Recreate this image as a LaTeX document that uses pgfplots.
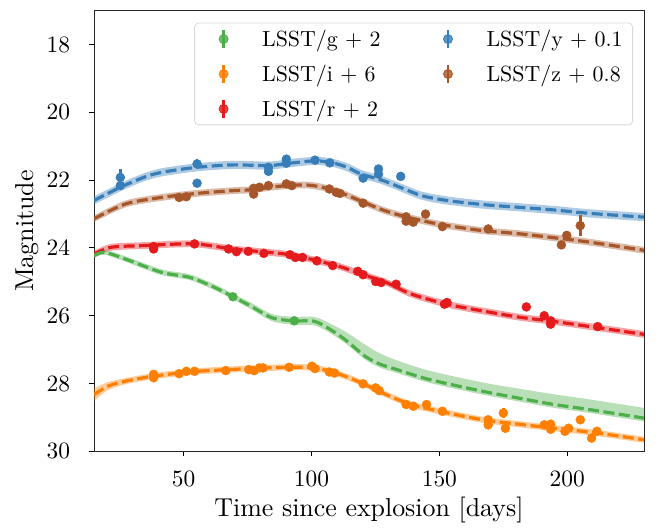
\documentclass[border=0pt]{standalone}
\usepackage{fontspec}
\setmainfont{lmroman10-regular.otf}
\usepackage{pgfplots}
\pgfplotsset{compat=1.18}
\usepgfplotslibrary{fillbetween}
\usepackage{pgfplotstable}
\definecolor{cg}{HTML}{4DAF4A}
\definecolor{co}{HTML}{FF7F00}
\definecolor{cr}{HTML}{E41A1C}
\definecolor{cb}{HTML}{377EB8}
\definecolor{cz}{HTML}{A65628}

% models: d = days, m = magnitude, lo/hi = band edges
\pgfplotstableread{
d m lo hi
15.0 22.60 22.48 22.72
25.3 22.21 22.09 22.33
34.4 21.92 21.80 22.04
41.4 21.77 21.65 21.89
55.3 21.62 21.50 21.74
69.3 21.55 21.43 21.67
83.2 21.57 21.45 21.69
91.6 21.50 21.38 21.62
101.4 21.43 21.31 21.55
108.3 21.49 21.37 21.61
113.9 21.62 21.50 21.74
119.5 21.82 21.70 21.94
127.9 22.01 21.89 22.13
136.3 22.26 22.14 22.38
143.2 22.46 22.34 22.58
153.0 22.60 22.48 22.72
167.0 22.72 22.60 22.84
181.0 22.80 22.68 22.92
194.9 22.88 22.76 23.00
208.8 22.98 22.86 23.10
230.0 23.09 22.97 23.21
}\ymodel

\pgfplotstableread{
d m lo hi
15.0 23.14 23.04 23.24
27.4 22.70 22.60 22.80
41.4 22.51 22.41 22.61
55.3 22.39 22.29 22.49
69.3 22.31 22.21 22.41
77.6 22.28 22.18 22.38
86.0 22.19 22.09 22.29
97.2 22.14 22.04 22.24
104.2 22.21 22.11 22.31
111.1 22.36 22.26 22.46
119.5 22.62 22.52 22.72
127.9 22.88 22.78 22.98
136.3 23.07 22.97 23.17
146.0 23.24 23.14 23.34
153.0 23.34 23.24 23.44
167.0 23.49 23.39 23.59
181.0 23.58 23.48 23.68
194.9 23.70 23.60 23.80
208.8 23.83 23.73 23.93
230.0 24.07 23.97 24.17
}\zmodel

\pgfplotstableread{
d m lo hi
15.0 24.18 24.08 24.28
21.8 23.98 23.88 24.08
34.4 23.93 23.83 24.03
53.9 23.88 23.78 23.98
69.3 24.03 23.93 24.13
83.2 24.13 24.03 24.23
91.6 24.20 24.10 24.30
101.4 24.36 24.26 24.46
111.1 24.55 24.45 24.65
119.5 24.77 24.67 24.87
129.3 25.02 24.92 25.12
139.0 25.36 25.26 25.46
153.0 25.66 25.56 25.76
167.0 25.86 25.76 25.96
181.0 26.04 25.94 26.14
194.9 26.17 26.07 26.27
211.6 26.35 26.25 26.45
230.0 26.55 26.45 26.65
}\rmodel

\pgfplotstableread{
d m lo hi
15.0 24.23 24.16 24.30
19.0 24.13 24.06 24.20
27.4 24.33 24.25 24.41
41.4 24.72 24.63 24.80
52.5 24.87 24.78 24.95
62.3 25.17 25.08 25.25
69.3 25.44 25.35 25.52
76.2 25.71 25.61 25.80
84.6 26.06 25.95 26.16
93.0 26.15 26.03 26.27
101.4 26.17 26.04 26.29
108.3 26.45 26.27 26.56
113.9 26.75 26.50 26.85
120.9 27.19 26.85 27.29
126.5 27.42 27.10 27.52
133.5 27.59 27.32 27.69
146.0 27.88 27.62 27.98
167.0 28.23 27.97 28.33
181.0 28.43 28.15 28.53
194.9 28.62 28.32 28.72
208.8 28.77 28.47 28.87
230.0 29.02 28.72 29.12
}\gmodel

\pgfplotstableread{
d m lo hi
15.0 28.33 28.15 28.51
20.4 28.08 27.96 28.20
27.4 27.93 27.84 28.02
38.6 27.78 27.69 27.87
55.3 27.64 27.55 27.73
76.2 27.56 27.47 27.65
91.6 27.52 27.43 27.61
101.4 27.54 27.45 27.63
111.1 27.73 27.64 27.82
119.5 27.98 27.89 28.07
129.3 28.33 28.24 28.42
139.0 28.62 28.53 28.71
150.2 28.82 28.73 28.91
167.0 29.07 28.98 29.16
181.0 29.20 29.11 29.29
194.9 29.32 29.23 29.41
211.6 29.46 29.37 29.55
230.0 29.66 29.57 29.75
}\imodel

% observations: d = days, m = magnitude, e = error
\pgfplotstableread{
d m e
25.3 21.92 0.25
25.3 22.16 0.10
55.3 21.52 0.13
55.3 22.09 0.06
83.2 21.62 0.08
83.2 21.74 0.08
90.2 21.38 0.10
90.2 21.50 0.08
101.4 21.41 0.06
107.2 21.49 0.06
120.2 21.94 0.06
126.2 21.67 0.12
126.2 21.82 0.08
134.9 21.89 0.12
}\ypts

\pgfplotstableread{
d m e
48.3 22.51 0.07
51.1 22.49 0.07
77.4 22.41 0.10
77.4 22.24 0.08
79.7 22.21 0.07
83.2 22.16 0.07
90.2 22.11 0.07
92.3 22.16 0.07
107.0 22.26 0.07
109.7 22.36 0.07
111.1 22.39 0.07
120.2 22.68 0.07
137.0 23.08 0.10
137.0 23.21 0.08
139.8 23.24 0.07
144.6 23.00 0.10
151.2 23.37 0.08
169.1 23.44 0.10
197.7 23.91 0.12
199.8 23.63 0.12
205.1 23.34 0.30
}\zpts

\pgfplotstableread{
d m e
38.3 23.96 0.07
38.3 24.03 0.07
54.3 23.88 0.06
67.6 24.03 0.06
70.7 24.11 0.06
75.3 24.10 0.06
81.4 24.16 0.06
91.6 24.20 0.08
93.7 24.28 0.06
96.5 24.28 0.06
102.1 24.38 0.06
108.3 24.52 0.08
118.1 24.69 0.06
120.2 24.79 0.06
125.1 24.99 0.06
127.2 25.02 0.06
133.1 25.07 0.08
152.0 25.66 0.08
153.0 25.61 0.06
184.0 25.74 0.10
191.0 26.00 0.10
193.5 26.15 0.12
193.5 26.25 0.12
211.9 26.32 0.12
}\rpts

\pgfplotstableread{
d m e
69.3 25.44 0.06
93.3 26.15 0.08
}\gpts

\pgfplotstableread{
d m e
38.3 27.73 0.10
38.3 27.83 0.08
48.3 27.71 0.06
51.1 27.64 0.06
54.3 27.64 0.06
66.5 27.62 0.06
75.5 27.59 0.06
77.6 27.62 0.06
79.7 27.54 0.06
81.1 27.54 0.06
91.3 27.52 0.06
100.2 27.49 0.06
101.4 27.56 0.06
107.0 27.66 0.06
109.0 27.69 0.06
120.2 28.01 0.06
125.1 28.13 0.06
126.5 28.21 0.08
137.0 28.62 0.08
139.8 28.67 0.08
145.0 28.62 0.08
151.2 28.82 0.06
169.1 29.07 0.08
169.1 29.22 0.10
175.0 28.87 0.15
175.8 29.32 0.10
191.0 29.22 0.08
193.5 29.20 0.08
193.5 29.35 0.10
199.1 29.41 0.10
200.5 29.32 0.10
205.1 29.07 0.12
209.5 29.61 0.12
211.6 29.41 0.10
}\ipts

\pgfplotsset{
  band/.style={draw=none, fill opacity=0.4},
  model/.style={line width=3.2bp, dash pattern=on 11bp off 4.5bp, smooth},
  obs/.style={only marks, mark=*, mark size=4.5bp,
    /pgfplots/error bars/y dir=both,
    /pgfplots/error bars/y explicit,
    /pgfplots/error bars/error mark=none,
    /pgfplots/error bars/error bar style={line width=2.8bp}},
  errleg/.style={legend image code/.code={
    \draw[line width=2.8bp] (21bp,-9bp) -- (21bp,9bp);
    \fill (21bp,0bp) circle (4.5bp);
    \path[draw=none,fill=none] (0bp,0bp) -- (57.5bp,0bp);}},
}

\newcommand{\bandplot}[3]{%
  \addplot[draw=none, smooth, name path=#2lo, forget plot] table[x=d,y=lo]{#1};
  \addplot[draw=none, smooth, name path=#2hi, forget plot] table[x=d,y=hi]{#1};
  \addplot[band, fill=#3, forget plot] fill between[of=#2lo and #2hi];
}

\begin{document}
\begin{tikzpicture}
\begin{axis}[
  scale only axis,
  width=550bp, height=440.6bp,
  xmin=15, xmax=230, ymin=17, ymax=30, y dir=reverse,
  xtick={50,100,150,200}, ytick={18,20,22,24,26,28,30},
  /pgf/number format/assume math mode=true,
  tick align=outside, xtick pos=bottom, ytick pos=left,
  major tick length=5bp,
  every tick/.style={black, line width=1bp},
  axis line style={line width=1bp, black!85},
  tick label style={font=\fontsize{23.5}{27}\selectfont},
  xticklabel style={yshift=-11bp},
  yticklabel style={xshift=-15.5bp},
  label style={font=\fontsize{26}{30}\selectfont},
  xlabel={Time since explosion [days]},
  ylabel={Magnitude},
  xlabel style={at={(axis description cs:0.5,0)}, anchor=base, yshift=-65.2bp},
  ylabel style={at={([xshift=-67.3bp]axis description cs:0,0.5)}, anchor=center},
  legend style={
    at={(axis description cs:1,1)}, anchor=north east,
    xshift=-11bp, yshift=-12bp,
    draw=black!15, line width=0.8bp, rounded corners=4bp,
    fill=white, fill opacity=0.8, text opacity=1,
    inner xsep=8bp, inner ysep=5bp,
    row sep=13bp,
    nodes={inner sep=2bp},
    font=\fontsize{22}{26}\selectfont,
    /tikz/every even column/.append style={column sep=44.5bp},
  },
  legend columns=2,
  legend cell align=left,
]
\addlegendimage{errleg, color=cg}\addlegendentry{LSST/g + 2}
\addlegendimage{errleg, color=cb}\addlegendentry{LSST/y + 0.1}
\addlegendimage{errleg, color=co}\addlegendentry{LSST/i + 6}
\addlegendimage{errleg, color=cz}\addlegendentry{LSST/z + 0.8}
\addlegendimage{errleg, color=cr}\addlegendentry{LSST/r + 2}

\bandplot{\ymodel}{yb}{cb}
\bandplot{\zmodel}{zb}{cz}
\bandplot{\rmodel}{rb}{cr}
\bandplot{\gmodel}{gb}{cg}
\bandplot{\imodel}{ib}{co}

\addplot[model, cb, forget plot] table[x=d,y=m]{\ymodel};
\addplot[model, cz, forget plot] table[x=d,y=m]{\zmodel};
\addplot[model, cr, forget plot] table[x=d,y=m]{\rmodel};
\addplot[model, cg, forget plot] table[x=d,y=m]{\gmodel};
\addplot[model, co, forget plot] table[x=d,y=m]{\imodel};

\addplot[cg, obs, forget plot] table[x=d,y=m,y error=e]{\gpts};
\addplot[co, obs, forget plot] table[x=d,y=m,y error=e]{\ipts};
\addplot[cr, obs, forget plot] table[x=d,y=m,y error=e]{\rpts};
\addplot[cb, obs, forget plot] table[x=d,y=m,y error=e]{\ypts};
\addplot[cz, obs, forget plot] table[x=d,y=m,y error=e]{\zpts};
\end{axis}
\pgfresetboundingbox
\path ([shift={(-94bp,-79.7bp)}]current axis.south west) rectangle ([shift={(17bp,10.7bp)}]current axis.north east);
\end{tikzpicture}
\end{document}
